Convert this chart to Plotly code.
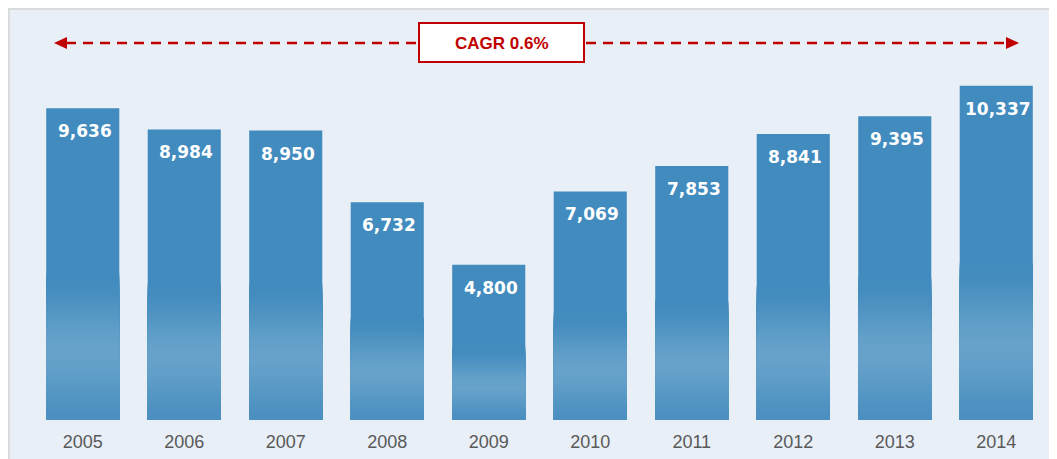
import plotly.graph_objects as go
import numpy as np

# ---- data ----
years = ["2005", "2006", "2007", "2008", "2009", "2010", "2011", "2012", "2013", "2014"]
values = [9636, 8984, 8950, 6732, 4800, 7069, 7853, 8841, 9395, 10337]
cagr_label = "CAGR 0.6%"

# ---- geometry (page has an 8px body margin) ----
W, H = 1057, 459
OFF = 8
ML, MR, MT, MB = 24, 18, 12, 47
PW = W - ML - MR
PH = H - MT - MB
Y_MAX = PH / 0.03234


def px(x):
    return (x - OFF - ML) / PW


def py(y):
    return (H - MB + OFF - y) / PH


DARK = np.array([66, 139, 190])
LIGHT = np.array([102, 162, 202])
BOTTOM = np.array([76, 144, 193])


def smooth(t):
    return t * t * (3 - 2 * t)


def grad(f):
    if f >= 0.47:
        c = DARK
    elif f >= 0.22:
        t = smooth((f - 0.22) / (0.47 - 0.22))
        c = LIGHT + (DARK - LIGHT) * t
    else:
        t = smooth(f / 0.22)
        c = BOTTOM + (LIGHT - BOTTOM) * t
    c = np.round(c).astype(int)
    return f"rgb({c[0]},{c[1]},{c[2]})"


fig = go.Figure()

fracs = [1.0] + [round(x, 3) for x in np.arange(0.47, 0.0, -0.01)]
for f in fracs:
    fig.add_trace(go.Bar(
        x=years, y=[v * f for v in values],
        marker=dict(color=grad(max(f - 0.005, 0)), line=dict(width=0)),
        width=0.72, hoverinfo="skip", showlegend=False,
    ))

# value labels
for i, v in enumerate(values):
    fig.add_annotation(
        x=i, y=v, xref="x", yref="y", text=f"{v:,}", showarrow=False,
        yanchor="top", xanchor="center", yshift=-11, xshift=2,
        font=dict(family="DejaVu Sans", size=17, color="white", weight="bold"),
    )

RED = "#c00000"
shapes = []
# background panel border
shapes.append(dict(type="rect", xref="paper", yref="paper",
                   x0=px(9), x1=px(1100), y0=py(500), y1=py(9),
                   fillcolor="#e8eff7", line=dict(color="#d9dadb", width=2), layer="below"))
# dashed lines
ly = py(43)
shapes.append(dict(type="line", xref="paper", yref="paper", x0=px(66), x1=px(418), y0=ly, y1=ly,
                   line=dict(color=RED, width=2.5, dash="10px,7px")))
shapes.append(dict(type="line", xref="paper", yref="paper", x0=px(586), x1=px(1008), y0=ly, y1=ly,
                   line=dict(color=RED, width=2.5, dash="10px,7px")))
# arrowheads
shapes.append(dict(type="path", xref="paper", yref="paper",
                   path=f"M {px(54)},{ly} L {px(67)},{py(37)} L {px(67)},{py(49)} Z",
                   fillcolor=RED, line=dict(width=0)))
shapes.append(dict(type="path", xref="paper", yref="paper",
                   path=f"M {px(1019)},{ly} L {px(1006)},{py(37)} L {px(1006)},{py(49)} Z",
                   fillcolor=RED, line=dict(width=0)))
# CAGR box
shapes.append(dict(type="rect", xref="paper", yref="paper",
                   x0=px(419), x1=px(584), y0=py(62), y1=py(23),
                   fillcolor="white", line=dict(color=RED, width=2)))

fig.add_annotation(xref="paper", yref="paper", x=px(501.5), y=py(43), text=cagr_label,
                   showarrow=False, xanchor="center", yanchor="middle",
                   font=dict(family="Liberation Sans", size=17, color=RED, weight="bold"))

fig.update_layout(
    width=W, height=H,
    margin=dict(l=ML, r=MR, t=MT, b=MB, pad=0),
    paper_bgcolor="white", plot_bgcolor="rgba(0,0,0,0)",
    barmode="overlay",
    shapes=shapes,
    showlegend=False,
    xaxis=dict(type="category", range=[-0.5, 9.5], showgrid=False, zeroline=False,
               showline=False, ticks="", fixedrange=True, ticklabelstandoff=9,
               tickfont=dict(family="Liberation Sans", size=18, color="#595959")),
    yaxis=dict(range=[0, Y_MAX], showgrid=False, zeroline=False, showline=False,
               showticklabels=False, ticks="", fixedrange=True),
)

fig.write_html("out.html")
